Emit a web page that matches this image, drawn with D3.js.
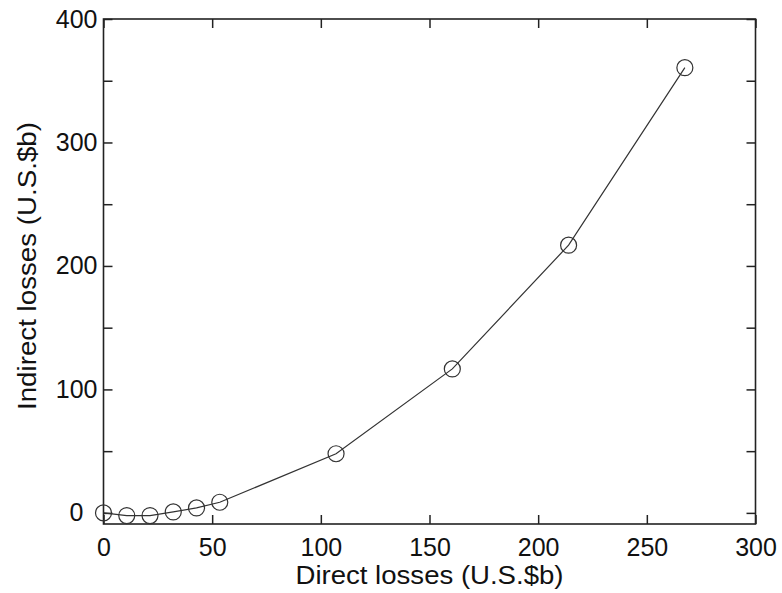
<!DOCTYPE html>
<html>
<head>
<meta charset="utf-8">
<script src="https://cdn.jsdelivr.net/npm/d3@7"></script>
<style>
  body { margin: 0; background: #fff; }
  text { font-family: "Liberation Sans", Arial, sans-serif; fill: #111; }
</style>
</head>
<body>
<div id="chart"></div>
<script>
// data
const directLosses = [0, 10.7, 21.4, 32.1, 42.8, 53.5, 107, 160.5, 214, 267.5];
const indirectLosses = [0, -2.2, -2.2, 0.8, 4, 8.6, 47.9, 116.6, 216.8, 360.6];
const xTicks = [0, 50, 100, 150, 200, 250, 300];
const yTicks = [0, 50, 100, 150, 200, 250, 300, 350, 400];
const yLabelled = [0, 100, 200, 300, 400];

const W = 782, H = 593;
const margin = { top: 19, right: 26.5, bottom: 69, left: 103.5 };
const width = W - margin.left - margin.right;
const height = H - margin.top - margin.bottom;

const svg = d3.select('#chart').append('svg')
    .attr('width', W).attr('height', H);

const root = svg.append('g')
    .attr('transform', `translate(${margin.left},${margin.top})`);

const x = d3.scaleLinear().domain([0, 300]).range([0, width]);
const y = d3.scaleLinear().domain([-9, 400]).range([height, 0]);

const tickLen = 9;
const fontSize = 25;

// bottom axis, ticks pointing inward
const xAxis = root.append('g')
    .attr('transform', `translate(0,${height})`)
    .call(d3.axisBottom(x).tickValues(xTicks).tickSizeInner(-tickLen).tickSizeOuter(0).tickPadding(14));
xAxis.selectAll('text').style('font-size', fontSize + 'px');

// top axis mirror
root.append('g')
    .call(d3.axisTop(x).tickValues(xTicks).tickSizeInner(-tickLen).tickSizeOuter(0).tickFormat(''));

// left axis
const yAxis = root.append('g')
    .call(d3.axisLeft(y).tickValues(yTicks).tickSizeInner(-tickLen).tickSizeOuter(0)
        .tickPadding(6)
        .tickFormat(d => yLabelled.includes(d) ? d : ''));
yAxis.selectAll('text').style('font-size', fontSize + 'px')
    .attr('dx', d => d === 0 ? -14 : 0);

// right axis mirror
root.append('g')
    .attr('transform', `translate(${width},0)`)
    .call(d3.axisRight(y).tickValues(yTicks).tickSizeInner(-tickLen).tickSizeOuter(0).tickFormat(''));

root.selectAll('.domain').remove();
root.selectAll('.tick line').attr('stroke', '#222').attr('stroke-width', 1.5);

// frame
root.append('rect')
    .attr('width', width).attr('height', height)
    .attr('fill', 'none').attr('stroke', '#222').attr('stroke-width', 1.6);

const points = directLosses.map((d, i) => ({ x: d, y: indirectLosses[i] }));

root.append('path')
    .datum(points)
    .attr('fill', 'none')
    .attr('stroke', '#333')
    .attr('stroke-width', 1.2)
    .attr('d', d3.line().x(d => x(d.x)).y(d => y(d.y)));

root.selectAll('circle')
    .data(points)
    .join('circle')
    .attr('cx', d => x(d.x))
    .attr('cy', d => y(d.y))
    .attr('r', 8)
    .attr('fill', 'none')
    .attr('stroke', '#333')
    .attr('stroke-width', 1.2);

// axis titles
svg.append('text')
    .attr('x', margin.left + x(150))
    .attr('y', 584)
    .attr('text-anchor', 'middle')
    .attr('textLength', 268)
    .attr('lengthAdjust', 'spacingAndGlyphs')
    .style('font-size', fontSize + 'px')
    .text('Direct losses (U.S.$b)');

svg.append('text')
    .attr('transform', `translate(36,266) rotate(-90)`)
    .attr('text-anchor', 'middle')
    .attr('textLength', 288)
    .attr('lengthAdjust', 'spacingAndGlyphs')
    .style('font-size', fontSize + 'px')
    .text('Indirect losses (U.S.$b)');
</script>
</body>
</html>
